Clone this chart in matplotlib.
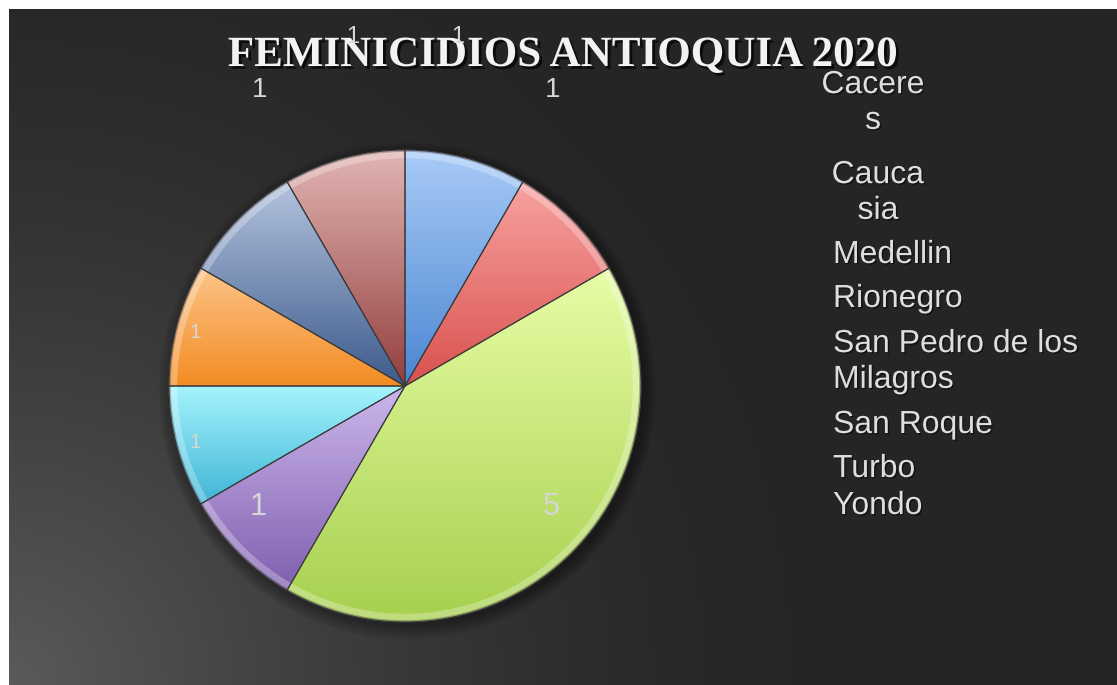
import numpy as np
import matplotlib.pyplot as plt
import matplotlib.patheffects as pe
from matplotlib.patches import Wedge, Circle
from matplotlib.colors import to_rgb

# data
municipios = ["Caceres", "Caucasia", "Medellin", "Rionegro",
              "San Pedro de los Milagros", "San Roque", "Turbo", "Yondo"]
casos = [1, 1, 5, 1, 1, 1, 1, 1]
legend_text = ["Cacere\ns", "Cauca\nsia", "Medellin", "Rionegro",
               "San Pedro de los\nMilagros", "San Roque", "Turbo", "Yondo"]
titulo = "FEMINICIDIOS ANTIOQUIA 2020"

# styles
top_colors = ["#a9cbf7", "#f7a3a0", "#e8fda6", "#cdb7ec", "#a6f4fd", "#fdc489", "#b4c3de", "#e2b6b4"]
bottom_colors = ["#4a86d2", "#d9514e", "#a6d04e", "#7e5fae", "#3fb5d6", "#f28c22", "#3d5b8c", "#923f3e"]

W, H = 1117, 685
fig = plt.figure(figsize=(W / 100, H / 100), dpi=100)
fig.patch.set_facecolor("white")

# background panel with soft light in the lower left corner
bg = fig.add_axes([0, 0, 1, 1])
bg.axis("off")
x0, y0 = 9, 9
yy, xx = np.mgrid[y0:H, x0:W]
d = np.hypot(xx - x0, yy - H) / 780.0
g = np.clip(1 - d, 0, 1) ** 1.5
v = 0.149 + (0.355 - 0.149) * g
bg.imshow(np.dstack([v, v, v]), extent=(x0, W, H, y0), origin="upper",
          interpolation="bilinear", aspect="auto")
bg.set_xlim(0, W)
bg.set_ylim(H, 0)

# pie
cx, cy, R = 405, 386, 236
half = 1.1 * R
ax = fig.add_axes([(cx - half) / W, (H - cy - half) / H, 2 * half / W, 2 * half / H])
ax.set_facecolor("none")

for k in range(10):
    ax.add_patch(Circle((0.01, -0.02), 1.0 + 0.006 * k, color="black",
                        alpha=0.035, lw=0, zorder=0))

wedges, _ = ax.pie(casos, startangle=90, counterclock=False, radius=1,
                   wedgeprops=dict(linewidth=0.8, edgecolor="#3a3a3a"))
for w, ct, cb in zip(wedges, top_colors, bottom_colors):
    w.set_facecolor(cb)
    w.set_zorder(1)
    bb = w.get_path().get_extents()
    t = np.linspace(0, 1, 200)[:, None]
    c1, c2 = np.array(to_rgb(ct)), np.array(to_rgb(cb))
    grad = (c1[None, :] * (1 - t) + c2[None, :] * t)[:, None, :]
    im = ax.imshow(grad, extent=(bb.x0, bb.x1, bb.y0, bb.y1), origin="upper",
                   aspect="auto", interpolation="bilinear", zorder=2)
    im.set_clip_path(w)
    # bevel on the rim
    ax.add_patch(Wedge((0, 0), 1.0, w.theta1, w.theta2, width=0.035,
                       facecolor="white", alpha=0.28, lw=0, zorder=3))
    ax.add_patch(Wedge((0, 0), 1.0, w.theta1, w.theta2, width=0.008,
                       facecolor="black", alpha=0.25, lw=0, zorder=3))
    ax.add_patch(Wedge((0, 0), 1.0, w.theta1, w.theta2, facecolor="none",
                       edgecolor="#3a3a3a", lw=0.8, zorder=4))

ax.set_xlim(-1.1, 1.1)
ax.set_ylim(-1.1, 1.1)
ax.set_aspect("equal")
ax.axis("off")

# data labels (layout in pixels, one per slice)
label_pos = [(553, 90), (458, 37), (551, 507), (258, 507), (195, 443), (195, 333), (260, 90), (353, 37)]
label_size = [20, 17, 22, 22, 15, 15, 20, 17]
for val, (lx, ly), s in zip(casos, label_pos, label_size):
    fig.text(lx / W, 1 - ly / H, str(val), ha="center", va="center", fontsize=s,
             family="Liberation Sans", color="#d6d6d6", zorder=10)

# title
fig.text(563 / W, 1 - 56 / H, titulo, ha="center", va="center", fontsize=31,
         family="Liberation Serif", weight="bold", color="#f2f2f2", zorder=9,
         path_effects=[pe.SimplePatchShadow(offset=(2, -2), shadow_rgbFace="black", alpha=0.7),
                       pe.Normal()])

# legend (text only, as in the original)
leg_x = [873, 878, 833, 833, 833, 833, 833, 833]
leg_y = [103, 193, 255, 299, 362, 425, 469, 506]
leg_ha = ["center", "center", "left", "left", "left", "left", "left", "left"]
for txt, lx, ly, ha in zip(legend_text, leg_x, leg_y, leg_ha):
    fig.text(lx / W, 1 - ly / H, txt, ha=ha, va="center", fontsize=23,
             family="Liberation Sans", color="#dedede", linespacing=1.25,
             multialignment="center" if ha == "center" else "left",
             path_effects=[pe.SimplePatchShadow(offset=(1, -1), shadow_rgbFace="black", alpha=0.5),
                           pe.Normal()])

fig.savefig("out.png", dpi=100)
